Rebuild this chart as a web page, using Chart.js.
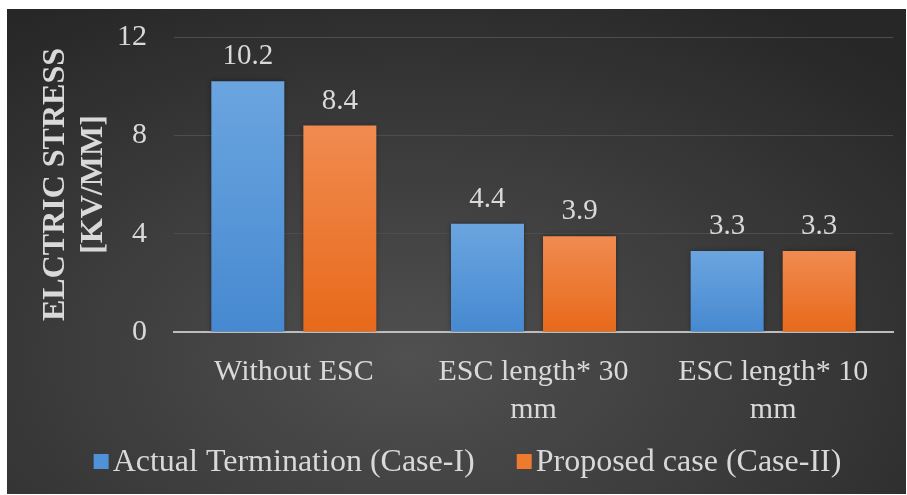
<!DOCTYPE html>
<html>
<head>
<meta charset="utf-8">
<script src="https://cdn.jsdelivr.net/npm/chart.js@4.4.1/dist/chart.umd.min.js"></script>
<style>
    html, body { margin: 0; padding: 0; background: #ffffff; }
    #wrap {
        position: absolute;
        left: 7px;
        top: 9px;
        width: 899px;
        height: 485px;
        background: radial-gradient(ellipse 75% 85% at 45% 72%, #505050 0%, #3c3c3c 50%, #272727 100%);
    }
</style>
</head>
<body>
<div id="wrap"><canvas id="stressChart"></canvas></div>
<script>
// Data
const categories = [['Without ESC'], ['ESC length* 30', 'mm'], ['ESC length* 10', 'mm']];
const actualTermination = [10.2, 4.4, 3.3];
const proposedCase = [8.4, 3.9, 3.3];
const seriesNames = ['Actual Termination (Case-I)', 'Proposed case (Case-II)'];
const yTicks = [0, 4, 8, 12];

const TEXT = '#d9d9d9';
const SERIF = '"Liberation Serif", "Times New Roman", serif';
const legendFills = ['#4f92d8', '#ee7a30'];

// vertical gradient per bar, from bar top down to the zero line
function barGradient(top, bottom) {
    return function(ctx) {
        const chart = ctx.chart;
        if (!chart.chartArea || ctx.type !== 'data') return bottom;
        const y = chart.scales.y;
        const y0 = y.getPixelForValue(0);
        const y1 = y.getPixelForValue(ctx.parsed.y);
        const g = chart.ctx.createLinearGradient(0, y1, 0, y0);
        g.addColorStop(0, top);
        g.addColorStop(1, bottom);
        return g;
    };
}

// soft dark shadow round the bars
const barShadow = {
    id: 'barShadow',
    beforeDatasetDraw(chart) {
        const ctx = chart.ctx;
        ctx.save();
        ctx.shadowColor = 'rgba(0, 0, 0, 0.45)';
        ctx.shadowBlur = 5;
    },
    afterDatasetDraw(chart) {
        chart.ctx.restore();
    }
};

// value labels above the bars
const valueLabels = {
    id: 'valueLabels',
    afterDatasetsDraw(chart) {
        const ctx = chart.ctx;
        ctx.save();
        ctx.font = '29px ' + SERIF;
        ctx.fillStyle = TEXT;
        ctx.textAlign = 'center';
        ctx.textBaseline = 'alphabetic';
        chart.data.datasets.forEach((ds, i) => {
            chart.getDatasetMeta(i).data.forEach((bar, j) => {
                ctx.fillText(ds.data[j].toFixed(1), bar.x, bar.y - 17);
            });
        });
        ctx.restore();
    }
};

// legend drawn by hand so the box sits close to its text like in Excel
const squareLegend = {
    id: 'squareLegend',
    afterDraw(chart) {
        const ctx = chart.ctx;
        const box = 15, gap = 4, itemGap = 42;
        ctx.save();
        ctx.font = '32px ' + SERIF;
        const widths = chart.data.datasets.map(ds => box + gap + ctx.measureText(ds.label).width);
        const total = widths.reduce((a, b) => a + b, 0) + itemGap * (widths.length - 1);
        let x = chart.width / 2 + 11 - total / 2;
        const cy = 452.5;
        ctx.textBaseline = 'middle';
        ctx.textAlign = 'left';
        chart.data.datasets.forEach((ds, i) => {
            ctx.fillStyle = legendFills[i];
            ctx.fillRect(x, cy - box / 2, box, box);
            ctx.fillStyle = TEXT;
            ctx.fillText(ds.label, x + box + gap, cy + 1);
            x += widths[i] + itemGap;
        });
        ctx.restore();
    }
};

new Chart(document.getElementById('stressChart'), {
    type: 'bar',
    data: {
        labels: categories,
        datasets: [
            {
                label: seriesNames[0],
                data: actualTermination,
                backgroundColor: barGradient('#6ba5e0', '#4689d0'),
                borderWidth: 0
            },
            {
                label: seriesNames[1],
                data: proposedCase,
                backgroundColor: barGradient('#f08b50', '#e8691a'),
                borderWidth: 0
            }
        ]
    },
    options: {
        responsive: true,
        maintainAspectRatio: false,
        animation: false,
        datasets: {
            bar: { categoryPercentage: 0.768, barPercentage: 0.793 }
        },
        layout: {
            padding: { top: 28, left: 30, right: 13, bottom: 65 }
        },
        scales: {
            x: {
                grid: { display: false, drawTicks: false },
                border: { display: true, color: '#bdbdbd', width: 2 },
                ticks: {
                    color: TEXT,
                    font: { family: SERIF, size: 30, lineHeight: 1.27 },
                    padding: 21,
                    maxRotation: 0,
                    autoSkip: false
                },
                afterFit(scale) {
                    scale.height = 97;
                }
            },
            y: {
                min: 0,
                max: 12,
                afterBuildTicks(scale) {
                    scale.ticks = yTicks.map(v => ({ value: v }));
                },
                afterFit(scale) {
                    scale.width = 137;
                    scale.paddingTop = 0;
                    scale.paddingBottom = 0;
                },
                grid: { color: '#4d4d4d', lineWidth: 1, drawTicks: false },
                border: { display: false },
                ticks: {
                    color: TEXT,
                    font: { family: SERIF, size: 30 },
                    padding: 27
                },
                title: {
                    display: true,
                    text: ['ELCTRIC STRESS', '[KV/MM]'],
                    color: TEXT,
                    font: { family: SERIF, size: 32, weight: 'bold', lineHeight: 1.19 },
                    padding: { top: 0, bottom: 4 }
                }
            }
        },
        plugins: {
            legend: { display: false },
            tooltip: { enabled: false }
        }
    },
    plugins: [barShadow, valueLabels, squareLegend]
});
</script>
</body>
</html>
